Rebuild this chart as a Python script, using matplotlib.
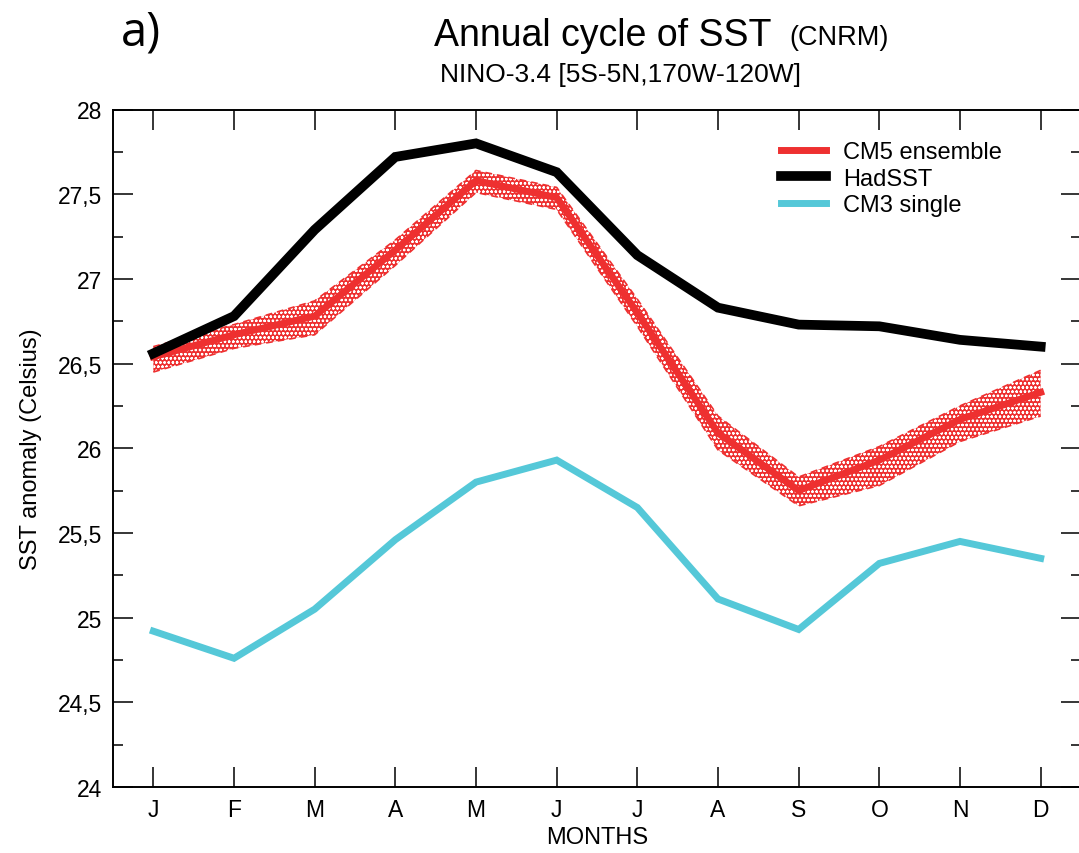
import numpy as np
import matplotlib
matplotlib.use("Agg")
import matplotlib.pyplot as plt
from matplotlib.ticker import MultipleLocator, FuncFormatter

# Monthly climatology, Nino-3.4 box
months = ["J", "F", "M", "A", "M", "J", "J", "A", "S", "O", "N", "D"]
had_sst = [26.56, 26.78, 27.29, 27.72, 27.80, 27.63, 27.14, 26.83, 26.73, 26.72, 26.64, 26.60]
cm3_single = [24.92, 24.76, 25.05, 25.46, 25.80, 25.93, 25.65, 25.11, 24.93, 25.32, 25.45, 25.35]
cm5_mean = [26.54, 26.67, 26.78, 27.17, 27.58, 27.48, 26.80, 26.09, 25.75, 25.93, 26.17, 26.33]
cm5_low = [26.45, 26.59, 26.67, 27.08, 27.51, 27.41, 26.72, 25.99, 25.66, 25.78, 26.04, 26.19]
cm5_high = [26.60, 26.73, 26.87, 27.23, 27.64, 27.54, 26.88, 26.19, 25.83, 26.01, 26.25, 26.46]

red = "#ee3030"
cyan = "#55c8d8"

plt.rcParams["font.family"] = ["Liberation Sans", "DejaVu Sans"]
plt.rcParams["hatch.linewidth"] = 0.6

fig = plt.figure(figsize=(10.79, 8.54), dpi=100)
ax = fig.add_axes([113 / 1079, 66 / 854, 968 / 1079, 677.5 / 854])

x = np.arange(len(months))

# ensemble spread, stippled
ax.fill_between(x, cm5_low, cm5_high, facecolor=red, edgecolor="white",
                hatch="oooo", linewidth=0, zorder=2)
ax.plot(x, cm5_low, color=red, lw=1.2, ls=(0, (4, 3)), zorder=2)
ax.plot(x, cm5_high, color=red, lw=1.2, ls=(0, (4, 3)), zorder=2)
ax.plot(x, cm5_mean, color=red, lw=5, solid_joinstyle="miter", zorder=3, label="CM5 ensemble")
ax.plot(x, had_sst, color="black", lw=7, solid_joinstyle="miter", zorder=4, label="HadSST")
ax.plot(x, cm3_single, color=cyan, lw=5, solid_joinstyle="miter", zorder=4, label="CM3 single")

ax.set_xlim(-0.5, 11.5)
ax.set_ylim(24, 28)
ax.set_xticks(x)
ax.set_xticklabels(months)
ax.yaxis.set_major_locator(MultipleLocator(0.5))
ax.yaxis.set_minor_locator(MultipleLocator(0.25))
ax.yaxis.set_major_formatter(FuncFormatter(lambda v, p: f"{v:g}".replace(".", ",")))

ax.tick_params(which="both", direction="in", top=True, right=True, width=1.1,
               labelsize=16.5, colors="black")
ax.tick_params(which="major", length=14.5, pad=8)
ax.tick_params(which="minor", length=7.5)
for s in ax.spines.values():
    s.set_linewidth(1.4)

ax.set_xlabel("MONTHS", fontsize=17, va="top")
ax.xaxis.set_label_coords(0.5, -0.057)
ax.set_ylabel("SST anomaly (Celsius)", fontsize=17, va="center")
ax.yaxis.set_label_coords(-82 / 968, 0.5)

leg = ax.legend(loc="upper left", bbox_to_anchor=(0.668, 0.985), frameon=False,
                fontsize=17, handlelength=1.9, handletextpad=0.75, labelspacing=0.2)

fig.text(0.559, 0.958, "Annual cycle of SST", ha="center", va="center", fontsize=27)
fig.text(0.732, 0.955, "(CNRM)", ha="left", va="center", fontsize=19.5)
fig.text(0.575, 0.912, "NINO-3.4 [5S-5N,170W-120W]", ha="center", va="center",
         fontsize=19)
fig.text(0.112, 0.962, "a)", ha="left", va="center", fontsize=34,
         family=["Open Sans", "DejaVu Sans"])

fig.savefig("out.png", dpi=100)
